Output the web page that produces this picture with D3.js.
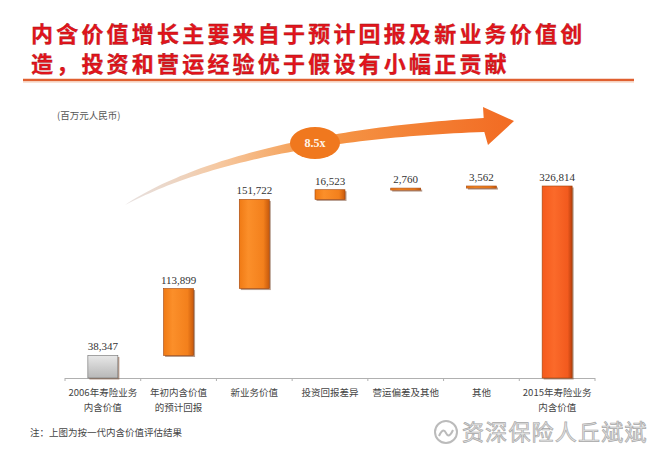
<!DOCTYPE html>
<html><head><meta charset="utf-8">
<script src="https://cdn.jsdelivr.net/npm/d3@7"></script>
<style>body{margin:0;background:#fff;}svg{display:block;}</style>
</head><body>
<script>
const categories = [["2006年寿险业务","内含价值"],["年初内含价值","的预计回报"],["新业务价值"],["投资回报差异"],["营运偏差及其他"],["其他"],["2015年寿险业务","内含价值"]];
const values = [38347, 113899, 151722, 16523, 2760, 3562, 326814];
const valueLabels = ["38,347","113,899","151,722","16,523","2,760","3,562","326,814"];
const barTypes = ["total","delta","delta","delta","delta","delta","total"];
const titleLines = ["内含价值增长主要来自于预计回报及新业务价值创","造，投资和营运经验优于假设有小幅正贡献"];
const unitLabel = "(百万元人民币)";
const growthLabel = "8.5x";
const footnote = "注：上图为按一代内含价值评估结果";
const watermark = "资深保险人丘斌斌";

const W = 660, H = 449;
const svg = d3.select("body").append("svg").attr("width", W).attr("height", H);
const defs = svg.append("defs");

// gradients
const gOr = defs.append("linearGradient").attr("id","gOr").attr("x1","0").attr("x2","1");
gOr.append("stop").attr("offset","0").attr("stop-color","#f07a14");
gOr.append("stop").attr("offset","0.3").attr("stop-color","#fb8f2a");
gOr.append("stop").attr("offset","0.8").attr("stop-color","#f3801c");
gOr.append("stop").attr("offset","1").attr("stop-color","#c85a0c");
const gRed = defs.append("linearGradient").attr("id","gRed").attr("x1","0").attr("x2","1");
gRed.append("stop").attr("offset","0").attr("stop-color","#f55a1c");
gRed.append("stop").attr("offset","0.4").attr("stop-color","#fb6a2a");
gRed.append("stop").attr("offset","0.85").attr("stop-color","#f25a1e");
gRed.append("stop").attr("offset","1").attr("stop-color","#b8400e");
const gGray = defs.append("linearGradient").attr("id","gGray").attr("x1","0").attr("x2","0").attr("y1","0").attr("y2","1");
gGray.append("stop").attr("offset","0").attr("stop-color","#e8e8e8");
gGray.append("stop").attr("offset","0.5").attr("stop-color","#cfcfcf");
gGray.append("stop").attr("offset","1").attr("stop-color","#b8b8b8");
const gArrow = defs.append("linearGradient").attr("id","gArrow").attr("gradientUnits","userSpaceOnUse")
  .attr("x1",120).attr("y1",0).attr("x2",515).attr("y2",0);
gArrow.append("stop").attr("offset","0").attr("stop-color","#d8d0d0").attr("stop-opacity","0.6");
gArrow.append("stop").attr("offset","0.25").attr("stop-color","#f6c8a0");
gArrow.append("stop").attr("offset","0.5").attr("stop-color","#f59848");
gArrow.append("stop").attr("offset","1").attr("stop-color","#f26a22");

// Title
const title = svg.append("g");
titleLines.forEach((t,i)=>{
  title.append("text").attr("x",31).attr("y",42+i*30)
    .attr("font-family","'Noto Sans CJK SC'").attr("font-weight","bold")
    .attr("font-size",22).attr("letter-spacing","3.2px")
    .attr("fill","#e4141c").attr("stroke","#9a1010").attr("stroke-width",0.3)
    .text(t);
});
svg.append("line").attr("x1",23).attr("x2",634).attr("y1",80).attr("y2",80)
  .attr("stroke","#e06030").attr("stroke-width",2.5);
svg.append("line").attr("x1",23).attr("x2",634).attr("y1",82).attr("y2",82)
  .attr("stroke","#f3c8b0").attr("stroke-width",1);

// unit label
svg.append("text").attr("x",57).attr("y",119).attr("font-family","'Noto Sans CJK SC'")
  .attr("font-size",9.5).attr("fill","#555").text(unitLabel);

// scales
const x = d3.scaleBand().domain(d3.range(categories.length)).range([65,595]).paddingInner(0).paddingOuter(0);
const y = d3.scaleLinear().domain([0, values[values.length-1]]).range([378,186]);
const barW = 30;

// waterfall positions
let cum = 0;
const bars = values.map((v,i)=>{
  let y0, y1;
  if (barTypes[i]==="total") { y0 = 0; y1 = v; cum = v; }
  else { y0 = cum; y1 = cum + v; cum = y1; }
  return {i, v, y0, y1, type: barTypes[i]};
});

// arrow (decorative)
(function(){
  const P = [[125,205],[200,160],[330,132],[484,125]];
  function pt(t){
    const a=(1-t)*(1-t)*(1-t), b=3*(1-t)*(1-t)*t, c=3*(1-t)*t*t, d=t*t*t;
    return [a*P[0][0]+b*P[1][0]+c*P[2][0]+d*P[3][0], a*P[0][1]+b*P[1][1]+c*P[2][1]+d*P[3][1]];
  }
  const N=60, up=[], lo=[];
  for(let k=0;k<=N;k++){
    const t=k/N, p=pt(t), p2=pt(Math.min(1,t+0.001)), p1=pt(Math.max(0,t-0.001));
    let dx=p2[0]-p1[0], dy=p2[1]-p1[1]; const L=Math.hypot(dx,dy); dx/=L; dy/=L;
    const w = 7*Math.pow(t,0.75);
    up.push([p[0]+dy*w, p[1]-dx*w]); lo.push([p[0]-dy*w, p[1]+dx*w]);
  }
  const pts = up.concat([[483,107],[514,121],[488,145]]).concat(lo.reverse());
  svg.append("path").attr("d", d3.line()(pts)+"Z").attr("fill","url(#gArrow)");
  svg.append("ellipse").attr("cx",315).attr("cy",143).attr("rx",25).attr("ry",16).attr("fill","#f0781e");
  svg.append("text").attr("x",315).attr("y",147).attr("text-anchor","middle")
    .attr("font-family","'Liberation Serif'").attr("font-weight","bold").attr("font-size",12)
    .attr("fill","#fff5e8").text(growthLabel);
})();

// axis
const axisG = svg.append("g");
axisG.append("line").attr("x1",65).attr("x2",595).attr("y1",378.5).attr("y2",378.5).attr("stroke","#b0b0b0").attr("stroke-width",1);
d3.range(categories.length+1).forEach(k=>{
  const xx = k<categories.length ? x(k) : x(categories.length-1)+x.bandwidth();
  axisG.append("line").attr("x1",xx).attr("x2",xx).attr("y1",378).attr("y2",381).attr("stroke","#b0b0b0");
});

// bars
const bg = svg.append("g");
bars.forEach(b=>{
  const cx = x(b.i)+x.bandwidth()/2;
  const top = y(b.y1), bot = y(b.y0);
  const h = Math.max(2, bot-top);
  const fill = b.i===0 ? "url(#gGray)" : (b.i===values.length-1 ? "url(#gRed)" : "url(#gOr)");
  const stroke = b.i===0 ? "#6e6e6e" : "#a0440c";
  // shadow
  bg.append("rect").attr("x",cx-barW/2+1.5).attr("y",top+1.5).attr("width",barW).attr("height",h)
    .attr("fill","#7a4a30").attr("opacity",0.55);
  bg.append("rect").attr("x",cx-barW/2).attr("y",top).attr("width",barW).attr("height",h)
    .attr("fill",fill).attr("stroke",stroke).attr("stroke-width",0.6);
  bg.append("text").attr("x",cx).attr("y",top-5).attr("text-anchor","middle")
    .attr("font-family","'Liberation Serif'").attr("font-size",11).attr("fill","#333")
    .text(valueLabels[b.i]);
});

// category labels
categories.forEach((c,i)=>{
  const cx = x(i)+x.bandwidth()/2;
  c.forEach((line,j)=>{
    svg.append("text").attr("x",cx).attr("y",396+j*15).attr("text-anchor","middle")
      .attr("font-family","'Noto Sans CJK SC'").attr("font-size",9.5).attr("fill","#444")
      .text(line);
  });
});

// footnote
svg.append("text").attr("x",30).attr("y",436).attr("font-family","'Noto Sans CJK SC'")
  .attr("font-size",9.5).attr("fill","#444").text(footnote);

// watermark
svg.append("circle").attr("cx",446).attr("cy",432).attr("r",11).attr("fill","none").attr("stroke","#bbb").attr("stroke-width",2);
svg.append("path").attr("d","M439,436 q4,-9 7,-3 q3,6 7,-3").attr("fill","none").attr("stroke","#bbb").attr("stroke-width",2);
svg.append("text").attr("x",462).attr("y",440).attr("font-family","'Noto Sans CJK SC'")
  .attr("font-size",22).attr("letter-spacing","1.2px").attr("fill","#e4e4e4").attr("stroke","#a8a8a8").attr("stroke-width",0.7)
  .text(watermark);
</script>
</body></html>
